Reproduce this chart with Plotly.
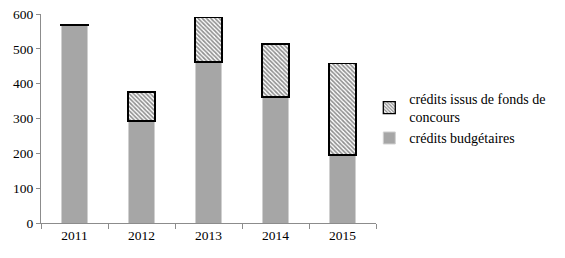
import plotly.graph_objects as go

years = ["2011", "2012", "2013", "2014", "2015"]
budget = [566, 293, 462, 362, 195]
fonds = [4, 83, 127, 152, 262]
y_ticks = [0, 100, 200, 300, 400, 500, 600]

font_family = "Liberation Serif, DejaVu Serif, serif"

fig = go.Figure()
fig.add_trace(go.Bar(
    x=years, y=budget, name="crédits budgétaires",
    marker=dict(color="#A6A6A6", line=dict(color="#D0D0D0", width=1)),
    width=0.4,
))
fig.add_trace(go.Bar(
    x=years, y=fonds, name="crédits issus de fonds de<br>concours",
    marker=dict(color="white", line=dict(color="black", width=1.3),
                pattern=dict(shape="\\", size=3, solidity=0.55, fgcolor="#222222", bgcolor="white")),
    width=0.4,
))

fig.update_layout(
    barmode="stack",
    width=565, height=258,
    margin=dict(l=41, r=189, t=14, b=35, autoexpand=False),
    paper_bgcolor="white", plot_bgcolor="white",
    font=dict(family=font_family, size=13.5, color="black"),
    legend=dict(x=0.98, y=0.67, xanchor="left", yanchor="top",
                bgcolor="rgba(0,0,0,0)",
                traceorder="reversed", font=dict(size=14),
                itemwidth=30, tracegroupgap=5),
    xaxis=dict(showline=True, linecolor="#8C8C8C", linewidth=1,
               ticks="outside", tickson="boundaries", ticklen=5, tickcolor="#8C8C8C",
               showgrid=False, tickfont=dict(size=13.5)),
    yaxis=dict(showline=True, linecolor="#8C8C8C", linewidth=1,
               range=[0, 600], tickvals=y_ticks,
               ticks="outside", ticklen=4, tickcolor="#8C8C8C",
               showgrid=False, zeroline=False, tickfont=dict(size=13.5)),
    bargap=0.6,
)

fig.write_html("out.html")
